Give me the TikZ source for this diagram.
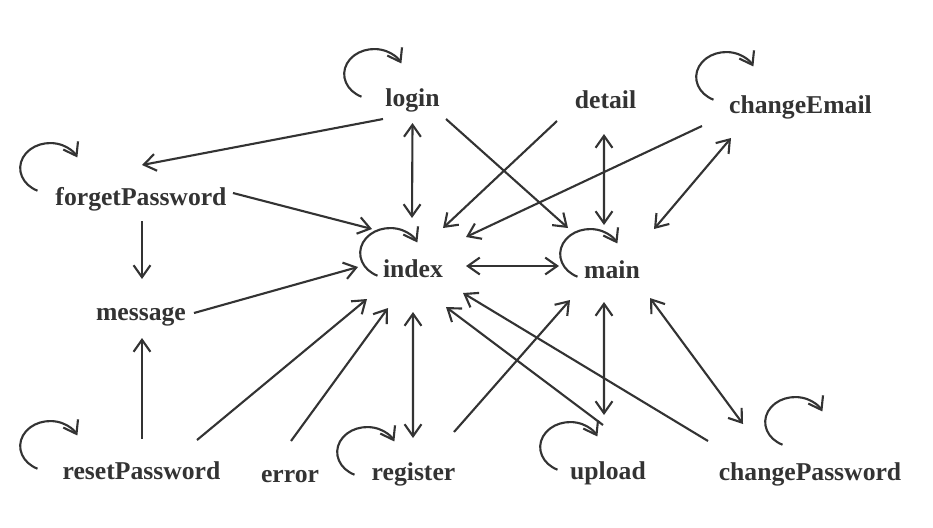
\documentclass[tikz,border=0pt]{standalone}
\usepackage{fontspec}
\setmainfont{Liberation Serif}
\usetikzlibrary{arrows.meta}

\begin{document}
\begin{tikzpicture}[st/.style = {anchor=base, inner sep=0pt, text=black!80, font=\bfseries\fontsize{7.3}{9}\selectfont},
  oneway/.style = {draw=black!80, line width=0.6pt, -{Straight Barb[length=3.4pt,width=4.8pt]}},
  twoway/.style = {draw=black!80, line width=0.6pt, {Straight Barb[length=3.4pt,width=4.8pt]}-{Straight Barb[length=3.4pt,width=4.8pt]}}]

\useasboundingbox (0,0) rectangle (9.33,5.27);

%% page labels
\node[st] (login) at (4.125, 4.21) {login};
\node[st] (detail) at (6.055, 4.19) {detail};
\node[st] (changeEmail) at (8.005, 4.14) {changeEmail};
\node[st] (forgetPassword) at (1.41, 3.22) {forgetPassword};
\node[st] (message) at (1.41, 2.07) {message};
\node[st] (index) at (4.13, 2.50) {index};
\node[st] (main) at (6.12, 2.49) {main};
\node[st] (resetPassword) at (1.415, 0.48) {resetPassword};
\node[st] (error) at (2.90, 0.45) {error};
\node[st] (register) at (4.135, 0.47) {register};
\node[st] (upload) at (6.08, 0.48) {upload};
\node[st] (changePassword) at (8.10, 0.47) {changePassword};

%% self loops
\draw[oneway] ([shift={(-0.51,0.093)}]login.base) arc (245:25:0.30 and 0.25);
\draw[oneway] ([shift={(-0.87,0.133)}]changeEmail.base) arc (245:25:0.30 and 0.25);
\draw[oneway] ([shift={(-1.035,0.143)}]forgetPassword.base) arc (245:25:0.30 and 0.25);
\draw[oneway] ([shift={(-0.355,0.013)}]index.base) arc (245:25:0.30 and 0.25);
\draw[oneway] ([shift={(-0.345,0.013)}]main.base) arc (245:25:0.30 and 0.25);
\draw[oneway] ([shift={(-1.04,0.103)}]resetPassword.base) arc (245:25:0.30 and 0.25);
\draw[oneway] ([shift={(-0.59,0.053)}]register.base) arc (245:25:0.30 and 0.25);
\draw[oneway] ([shift={(-0.505,0.093)}]upload.base) arc (245:25:0.30 and 0.25);
\draw[oneway] ([shift={(-0.275,0.353)}]changePassword.base) arc (245:25:0.30 and 0.25);

%%% edges
\draw[oneway] ([shift={(-0.295,-0.13)}]login.base) -- ([shift={(0.01,0.40)}]forgetPassword.base);
\draw[twoway] ([shift={(0,-0.17)}]login.base) -- ([shift={(-0.01,0.59)}]index.base);
\draw[oneway] ([shift={(0.335,-0.13)}]login.base) -- ([shift={(-0.44,0.50)}]main.base);
\draw[oneway] ([shift={(-0.485,-0.13)}]detail.base) -- ([shift={(0.30,0.49)}]index.base);
\draw[twoway] ([shift={(-0.015,-0.26)}]detail.base) -- ([shift={(-0.08,0.53)}]main.base);
\draw[oneway] ([shift={(-0.985,-0.13)}]changeEmail.base) -- ([shift={(0.53,0.40)}]index.base);
\draw[twoway] ([shift={(-0.695,-0.25)}]changeEmail.base) -- ([shift={(0.42,0.49)}]main.base);
\draw[oneway] ([shift={(0.92,0.12)}]forgetPassword.base) -- ([shift={(-0.41,0.48)}]index.base);
\draw[oneway] ([shift={(0.01,-0.16)}]forgetPassword.base) -- ([shift={(0.01,0.41)}]message.base);
\draw[oneway] ([shift={(0.53,0.07)}]message.base) -- ([shift={(-0.55,0.10)}]index.base);
\draw[oneway] ([shift={(0.005,0.40)}]resetPassword.base) -- ([shift={(0.01,-0.18)}]message.base);
\draw[oneway] ([shift={(0.555,0.39)}]resetPassword.base) -- ([shift={(-0.46,-0.22)}]index.base);
\draw[oneway] ([shift={(0.01,0.41)}]error.base) -- ([shift={(-0.25,-0.31)}]index.base);
\draw[twoway] ([shift={(-0.005,0.42)}]register.base) -- ([shift={(0,-0.35)}]index.base);
\draw[oneway] ([shift={(0.405,0.48)}]register.base) -- ([shift={(-0.42,-0.22)}]main.base);
\draw[twoway] ([shift={(-0.04,0.64)}]upload.base) -- ([shift={(-0.08,-0.24)}]main.base);
\draw[oneway] ([shift={(-0.05,0.54)}]upload.base) -- ([shift={(0.33,-0.30)}]index.base);
\draw[oneway] ([shift={(-1.02,0.39)}]changePassword.base) -- ([shift={(0.50,-0.16)}]index.base);
\draw[twoway] ([shift={(0.38,-0.20)}]main.base) -- ([shift={(-0.67,0.56)}]changePassword.base);
\draw[twoway] ([shift={(0.53,0.11)}]index.base) -- ([shift={(-0.53,0.12)}]main.base);

\end{tikzpicture}
\end{document}
